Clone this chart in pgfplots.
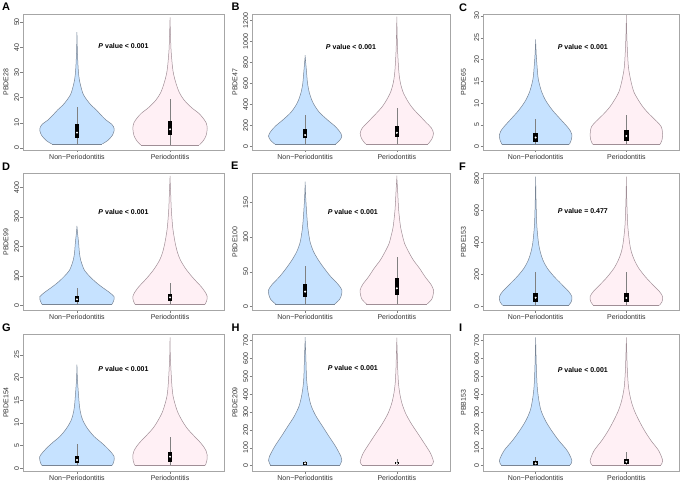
\documentclass[border=0pt]{standalone}
\usepackage{fontspec}
\setmainfont{Liberation Sans}
\usepackage{pgfplots}
\pgfplotsset{compat=1.18}
\usepackage{pgfplotstable}

\definecolor{vblue}{RGB}{198,226,255}
\definecolor{vpink}{RGB}{255,240,245}
\definecolor{bblue}{RGB}{120,132,148}
\definecolor{bpink}{RGB}{160,142,150}

% build closed outline: left side upward (s=-1), right side downward (s=+1)
\newcommand{\prepv}[1]{%
  \pgfplotstablesort[sort key=y, sort cmp=float >]{\tmpRev}{#1}%
  \pgfplotstablecreatecol[create col/set={1}]{s}{\tmpRev}%
  \pgfplotstablecreatecol[create col/set={-1}]{s}{#1}%
  \pgfplotstablevertcat{#1}{\tmpRev}%
}

\pgfplotstableread{
y w
1.6 0.272
3 0.332
5 0.38
7 0.40
8.5 0.392
9.5 0.372
11.1 0.312
13 0.26
15.1 0.208
17 0.152
19 0.108
21 0.072
23 0.052
27 0.026
31 0.014
37.7 0.005
45.2 0
}\tAn
\pgfplotstableread{
y w
1.2 0.316
3 0.36
5 0.388
7.8 0.40
10 0.388
12 0.352
13.8 0.308
16 0.232
19 0.152
22 0.10
25.7 0.064
29 0.04
32.3 0.026
38.9 0.011
45 0.005
51.2 0
}\tAp
\pgfplotstableread{
y w
25.7 0.332
60 0.376
102 0.40
150 0.372
200 0.32
240 0.264
286 0.204
330 0.152
390 0.104
445 0.072
520 0.044
604 0.026
700 0.016
762 0.01
863 0
}\tBn
\pgfplotstableread{
y w
25.7 0.34
70 0.38
127 0.40
180 0.376
230 0.32
286 0.26
340 0.20
390 0.152
445 0.112
520 0.068
604 0.04
680 0.026
762 0.018
921 0.008
1050 0.004
1222 0
}\tBp
\pgfplotstableread{
y w
0.55 0.372
1.5 0.392
2.7 0.40
3.6 0.384
4.6 0.348
5.7 0.30
6.9 0.248
8 0.20
9.3 0.152
10.7 0.108
12.5 0.068
14.5 0.04
16 0.026
18.4 0.016
21 0.007
24.3 0
}\tCn
\pgfplotstableread{
y w
0.55 0.372
1.5 0.392
2.7 0.40
3.6 0.396
4.6 0.384
5.7 0.34
6.9 0.28
8 0.228
9.3 0.176
10.7 0.132
12.5 0.084
14.5 0.056
16.5 0.036
18.4 0.022
22.2 0.011
26 0.004
29.8 0
}\tCp
\pgfplotstableread{
y w
4.7 0.376
15 0.392
30 0.40
45 0.348
64 0.264
80 0.20
98 0.14
120 0.08
154 0.04
180 0.026
211 0.018
240 0.008
267 0
}\tDn
\pgfplotstableread{
y w
4.7 0.376
15 0.392
30 0.40
45 0.38
64 0.336
80 0.288
98 0.236
125 0.168
154 0.112
180 0.08
211 0.056
240 0.04
267 0.028
324 0.014
380 0.007
433 0
}\tDp
\pgfplotstableread{
y w
3.9 0.324
10.5 0.376
17 0.396
24 0.40
32 0.36
43 0.28
55 0.208
67 0.144
79 0.092
91 0.058
100 0.044
115 0.028
139 0.014
160 0.005
178 0
}\tEn
\pgfplotstableread{
y w
3.9 0.332
10.5 0.38
17 0.396
24 0.40
32 0.372
43 0.308
55 0.248
67 0.18
79 0.128
91 0.084
103 0.06
115 0.04
139 0.02
163 0.01
186 0
}\tEp
\pgfplotstableread{
y w
8.7 0.364
30 0.392
62 0.40
95 0.364
125 0.312
155 0.26
187 0.204
240 0.128
291 0.08
340 0.052
395 0.032
499 0.014
603 0.007
700 0.003
800 0
}\tFn
\pgfplotstableread{
y w
8.7 0.364
30 0.392
62 0.40
95 0.364
125 0.312
155 0.26
187 0.208
240 0.136
291 0.088
340 0.056
395 0.036
499 0.016
603 0.008
700 0.003
800 0
}\tFp
\pgfplotstableread{
y w
0.66 0.38
1.5 0.396
2.56 0.40
3.6 0.364
4.8 0.308
5.9 0.248
7 0.184
8.8 0.112
10.7 0.06
12.5 0.036
14.3 0.024
18 0.01
20 0.004
22.6 0
}\tGn
\pgfplotstableread{
y w
0.66 0.38
1.7 0.396
2.9 0.40
3.8 0.388
4.8 0.36
5.9 0.316
7 0.264
8.8 0.184
10.7 0.124
12.5 0.08
14.3 0.052
16 0.032
18 0.021
21.7 0.01
25 0.003
28.5 0
}\tGp
\pgfplotstableread{
y w
4 0.38
30 0.40
52 0.39
108 0.332
164 0.26
220 0.19
276 0.12
332 0.068
388 0.04
444 0.023
500 0.014
600 0.008
709 0
}\tHn
\pgfplotstableread{
y w
4 0.38
22 0.40
69 0.368
125 0.30
181 0.228
237 0.156
293 0.096
349 0.056
405 0.032
461 0.018
536 0.01
620 0.005
708 0
}\tHp
\pgfplotstableread{
y w
4 0.38
28 0.40
84 0.348
140 0.256
196 0.176
252 0.108
308 0.06
364 0.036
438 0.018
532 0.009
620 0.004
709 0
}\tIn
\pgfplotstableread{
y w
4 0.38
28 0.40
84 0.356
140 0.272
196 0.20
252 0.14
308 0.088
364 0.052
438 0.024
532 0.011
620 0.005
709 0
}\tIp

\prepv{\tAn}\prepv{\tAp}\prepv{\tBn}\prepv{\tBp}\prepv{\tCn}\prepv{\tCp}
\prepv{\tDn}\prepv{\tDp}\prepv{\tEn}\prepv{\tEp}\prepv{\tFn}\prepv{\tFp}
\prepv{\tGn}\prepv{\tGp}\prepv{\tHn}\prepv{\tHp}\prepv{\tIn}\prepv{\tIp}

% violin: table, centre, fill, border, bottom half-width, bottom y
\newcommand{\violin}[6]{%
  \addplot[fill=#3, draw=#4, line width=0.5pt, smooth] table[x expr=#2+\thisrow{s}*\thisrow{w}, y=y]{#1};
  \addplot[draw=#4, line width=0.5pt] coordinates {(#2-#5,#6) (#2+#5,#6)};
}
% box: centre, low, high whisker, q1, q3, median
\newcommand{\bxp}[6]{%
  \addplot[draw=black!50, line width=0.6pt] coordinates {(#1,#2) (#1,#3)};
  \addplot[draw=black, line width=4.5pt] coordinates {(#1,#4) (#1,#5)};
  \addplot[only marks, mark=*, mark size=0.8pt, fill=white, draw=white] coordinates {(#1,#6)};
}

\pgfplotsset{
  vio/.style={
    scale only axis, anchor=south west,
    xmin=0.42, xmax=2.58, xtick={1,2},
    xticklabels={Non−Periodontitis, Periodontitis},
    axis line style={draw=black!35, line width=0.5pt},
    tick style={draw=black!50, line width=0.5pt},
    major tick length=2.5pt, tick align=outside, tick pos=left,
    scaled y ticks=false,
    /pgf/number format/assume math mode=true,
    /pgf/number format/1000 sep={},
    tick label style={font=\fontsize{7}{8}\selectfont, text=black!80},
    yticklabel style={rotate=90, anchor=south, inner sep=1pt},
    xticklabel style={inner sep=1.5pt},
    ylabel style={font=\fontsize{7}{8}\selectfont, text=black!80, anchor=center},
  },
}
\tikzset{
  pv/.style={font=\fontsize{7}{8}\selectfont\bfseries, text=black, anchor=center},
  lett/.style={font=\fontsize{11}{12}\selectfont\bfseries, anchor=base west, inner sep=0pt},
}

\begin{document}
\begin{tikzpicture}
\useasboundingbox (0,0) rectangle (685pt,482pt);

% ---------- A
\begin{axis}[vio, at={(23pt,332pt)}, width=201pt, height=136pt,
  ymin=-0.8, ymax=53.2, ytick={0,10,...,50}, ylabel={PBDE28},
  ylabel style={at={(axis description cs:-0.085,0.5)}}]
\violin{\tAn}{1}{vblue}{bblue}{0.272}{1.6}
\violin{\tAp}{2}{vpink}{bpink}{0.316}{1.2}
\bxp{1}{1.6}{16.1}{4.1}{9.4}{6.1}
\bxp{2}{1.2}{19.4}{5.2}{10.8}{7.4}
\node[pv] at (axis cs:1.5,40.5) {\textit{P} value < 0.001};
\end{axis}

% ---------- B
\begin{axis}[vio, at={(252pt,332pt)}, width=198pt, height=136pt,
  ymin=-31, ymax=1264, ytick={0,200,...,1200}, ylabel={PBDE47},
  ylabel style={at={(axis description cs:-0.086,0.5)}}]
\violin{\tBn}{1}{vblue}{bblue}{0.332}{25.7}
\violin{\tBp}{2}{vpink}{bpink}{0.34}{25.7}
\bxp{1}{25.7}{302}{80}{165}{111}
\bxp{2}{25.7}{365}{95}{197}{133}
\node[pv] at (axis cs:1.5,952) {\textit{P} value < 0.001};
\end{axis}

% ---------- C
\begin{axis}[vio, at={(483pt,332pt)}, width=196pt, height=136pt,
  ymin=-0.76, ymax=30.46, ytick={0,5,...,30}, ylabel={PBDE65},
  ylabel style={at={(axis description cs:-0.1,0.5)}}]
\violin{\tCn}{1}{vblue}{bblue}{0.372}{0.55}
\violin{\tCp}{2}{vpink}{bpink}{0.372}{0.55}
\bxp{1}{0.55}{6.35}{1.15}{3.2}{2.1}
\bxp{2}{0.55}{7.3}{1.4}{3.8}{2.45}
\node[pv] at (axis cs:1.52,22.9) {\textit{P} value < 0.001};
\end{axis}

% ---------- D
\begin{axis}[vio, at={(23pt,171.5pt)}, width=201pt, height=137pt,
  ymin=-16.2, ymax=446.6, ytick={0,100,...,400}, ylabel={PBDE99},
  ylabel style={at={(axis description cs:-0.085,0.5)}}]
\violin{\tDn}{1}{vblue}{bblue}{0.376}{4.7}
\violin{\tDp}{2}{vpink}{bpink}{0.376}{4.7}
\bxp{1}{4.7}{61}{13.5}{33}{21.5}
\bxp{2}{4.7}{75.7}{17}{39.5}{28}
\node[pv] at (axis cs:1.5,317) {\textit{P} value < 0.001};
\end{axis}

% ---------- E
\begin{axis}[vio, at={(252pt,171.5pt)}, width=198pt, height=137pt,
  ymin=-5.5, ymax=191.4, ytick={0,50,100,150}, ylabel={PBDE100},
  ylabel style={at={(axis description cs:-0.086,0.5)}}]
\violin{\tEn}{1}{vblue}{bblue}{0.324}{3.9}
\violin{\tEp}{2}{vpink}{bpink}{0.332}{3.9}
\bxp{1}{3.9}{58.5}{14.4}{32.6}{21.6}
\bxp{2}{3.9}{71.8}{16.8}{40.8}{26.4}
\node[pv] at (axis cs:1.52,136.5) {\textit{P} value < 0.001};
\end{axis}

% ---------- F
\begin{axis}[vio, at={(483pt,171.5pt)}, width=196pt, height=137pt,
  ymin=-23.7, ymax=830, ytick={0,200,...,800}, ylabel={PBDE153},
  ylabel style={at={(axis description cs:-0.1,0.5)}}]
\violin{\tFn}{1}{vblue}{bblue}{0.364}{8.7}
\violin{\tFp}{2}{vpink}{bpink}{0.364}{8.7}
\bxp{1}{8.7}{218}{31}{83.5}{56}
\bxp{2}{8.7}{218}{31}{83.5}{54}
\node[pv] at (axis cs:1.52,598) {\textit{P} value = 0.477};
\end{axis}

% ---------- G
\begin{axis}[vio, at={(23pt,11pt)}, width=201pt, height=137pt,
  ymin=-0.6, ymax=29.6, ytick={0,5,...,25}, ylabel={PBDE154},
  ylabel style={at={(axis description cs:-0.085,0.5)}}]
\violin{\tGn}{1}{vblue}{bblue}{0.38}{0.66}
\violin{\tGp}{2}{vpink}{bpink}{0.38}{0.66}
\bxp{1}{0.66}{5.4}{1.24}{2.8}{1.83}
\bxp{2}{0.66}{7}{1.45}{3.66}{2.56}
\node[pv] at (axis cs:1.5,21.9) {\textit{P} value < 0.001};
\end{axis}

% ---------- H
\begin{axis}[vio, at={(252pt,11pt)}, width=198pt, height=137pt,
  ymin=-29.7, ymax=737.5, ytick={0,100,...,700}, ylabel={PBDE209},
  ylabel style={at={(axis description cs:-0.086,0.5)}}]
\violin{\tHn}{1}{vblue}{bblue}{0.38}{4}
\violin{\tHp}{2}{vpink}{bpink}{0.38}{4}
\bxp{1}{4}{28}{6}{21}{13}
\bxp{2}{4}{35}{7}{23}{14}
\node[pv] at (axis cs:1.52,545) {\textit{P} value < 0.001};
\end{axis}

% ---------- I
\begin{axis}[vio, at={(483pt,11pt)}, width=196pt, height=137pt,
  ymin=-30, ymax=737, ytick={0,100,...,700}, ylabel={PBB153},
  ylabel style={at={(axis description cs:-0.1,0.5)}}]
\violin{\tIn}{1}{vblue}{bblue}{0.38}{4}
\violin{\tIp}{2}{vpink}{bpink}{0.38}{4}
\bxp{1}{4}{46}{6}{24}{13}
\bxp{2}{4}{74}{9.5}{37.5}{22}
\node[pv] at (axis cs:1.52,536) {\textit{P} value < 0.001};
\end{axis}

% panel letters
\node[lett] at (2pt,471pt) {A};
\node[lett] at (231.5pt,471pt) {B};
\node[lett] at (459pt,470pt) {C};
\node[lett] at (2pt,311.5pt) {D};
\node[lett] at (231pt,312pt) {E};
\node[lett] at (459pt,311pt) {F};
\node[lett] at (2pt,150.5pt) {G};
\node[lett] at (231.5pt,150.5pt) {H};
\node[lett] at (459pt,150.5pt) {I};
\end{tikzpicture}
\end{document}
